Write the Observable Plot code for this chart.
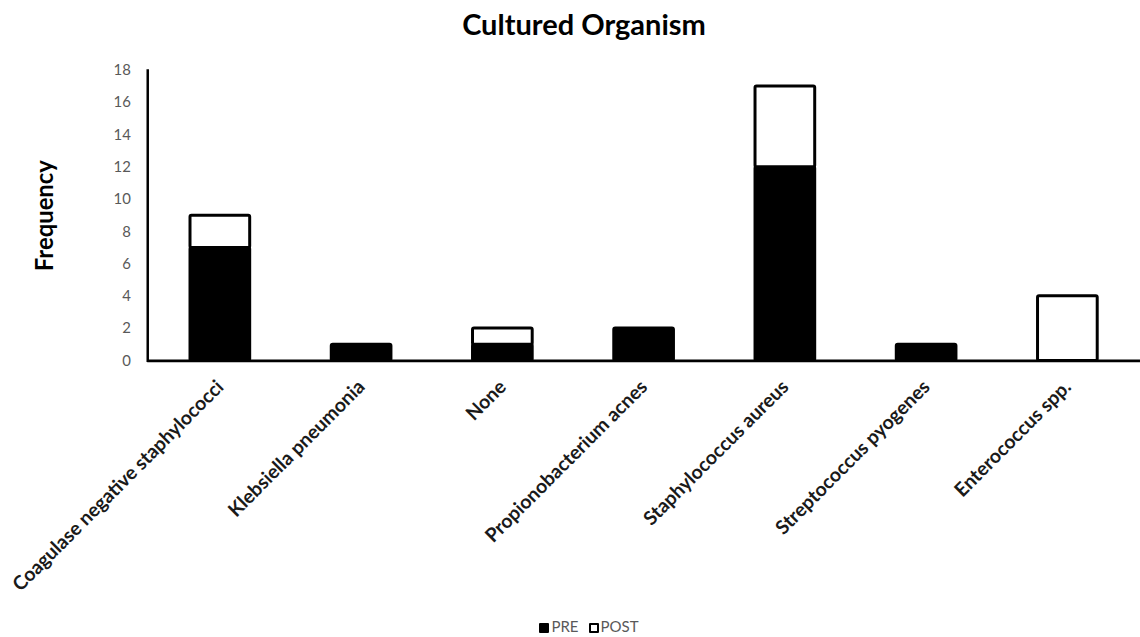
<!DOCTYPE html>
<html>
<head>
<meta charset="utf-8">
<script src="https://cdn.jsdelivr.net/npm/d3@7"></script>
<script src="https://cdn.jsdelivr.net/npm/@observablehq/plot@0.6"></script>
<style>
  html, body { margin: 0; padding: 0; background: #fff; overflow: hidden; width: 1140px; height: 637px; }
  body { font-family: Lato, "Open Sans", sans-serif; }
  #title { height: 52px; width: 1140px; box-sizing: border-box; padding-left: 28px; text-align: center; font-weight: bold; font-size: 29px; line-height: 48px; color: #000; }
  #legend { width: 1140px; text-align: center; font-size: 15px; color: #595959; height: 20px; line-height: 20px; padding-left: 38px; box-sizing: border-box; margin-top: 2px; }
  .sw { display: inline-block; width: 10px; height: 10px; vertical-align: -1px; margin-right: 2px; border-radius: 1px; box-sizing: border-box; }
  .item { margin: 0 5px; }
</style>
</head>
<body>
<div id="title">Cultured Organism</div>
<div id="chart"></div>
<div id="legend"></div>
<script>
const categories = [
  "Coagulase negative staphylococci",
  "Klebsiella pneumonia",
  "None",
  "Propionobacterium acnes",
  "Staphylococcus aureus",
  "Streptococcus pyogenes",
  "Enterococcus spp."
];
const seriesNames = ["PRE", "POST"];
const preValues = [7, 1, 1, 2, 12, 1, 0];
const postValues = [2, 0, 1, 0, 5, 0, 4];
const yTicks = [0, 2, 4, 6, 8, 10, 12, 14, 16, 18];

const rows = [];
categories.forEach((c, i) => rows.push({organism: c, series: "PRE", value: preValues[i]}));
categories.forEach((c, i) => rows.push({organism: c, series: "POST", value: postValues[i]}));
const data = rows.filter(d => d.value > 0);

const chart = Plot.plot({
  width: 1146,
  height: 565,
  marginLeft: 148,
  marginRight: 0,
  marginTop: 18,
  marginBottom: 255,
  style: {fontFamily: "Lato, 'Open Sans', sans-serif", background: "#fff", overflow: "visible"},
  x: {domain: categories, paddingInner: 0.58, paddingOuter: 0.29, axis: null},
  y: {domain: [0, 18], axis: null},
  color: {domain: seriesNames, range: ["#000000", "#ffffff"]},
  marks: [
    Plot.barY(data, Plot.stackY({order: null}, {
      x: "organism", y: "value", z: "series", fill: "series",
      stroke: "#000", strokeWidth: 3, rx: 1.5
    })),
    Plot.axisY({ticks: yTicks, tickSize: 0, tickPadding: 17, fontSize: 15, color: "#595959", label: null, tickFormat: d => d}),
    Plot.axisX({tickSize: 0, tickPadding: 23, tickRotate: -45, fontSize: 19.5, fontWeight: "bold", color: "#1a1a1a", label: null}),
    Plot.frame({anchor: "left", stroke: "#000", strokeWidth: 2.5}),
    Plot.ruleY([0], {stroke: "#000", strokeWidth: 3}),
    Plot.text(["Frequency"], {frameAnchor: "left", textAnchor: "middle", text: d => d, rotate: -90, dx: -103, fontSize: 24, fontWeight: "bold", fill: "#000"})
  ]
});
document.getElementById("chart").appendChild(chart);

const legend = document.getElementById("legend");
seriesNames.forEach((s, i) => {
  const span = document.createElement("span");
  span.className = "item";
  const sw = document.createElement("span");
  sw.className = "sw";
  sw.style.background = i === 0 ? "#000" : "#fff";
  sw.style.border = "2.5px solid #000";
  span.appendChild(sw);
  span.appendChild(document.createTextNode(s));
  legend.appendChild(span);
});
</script>
</body>
</html>
